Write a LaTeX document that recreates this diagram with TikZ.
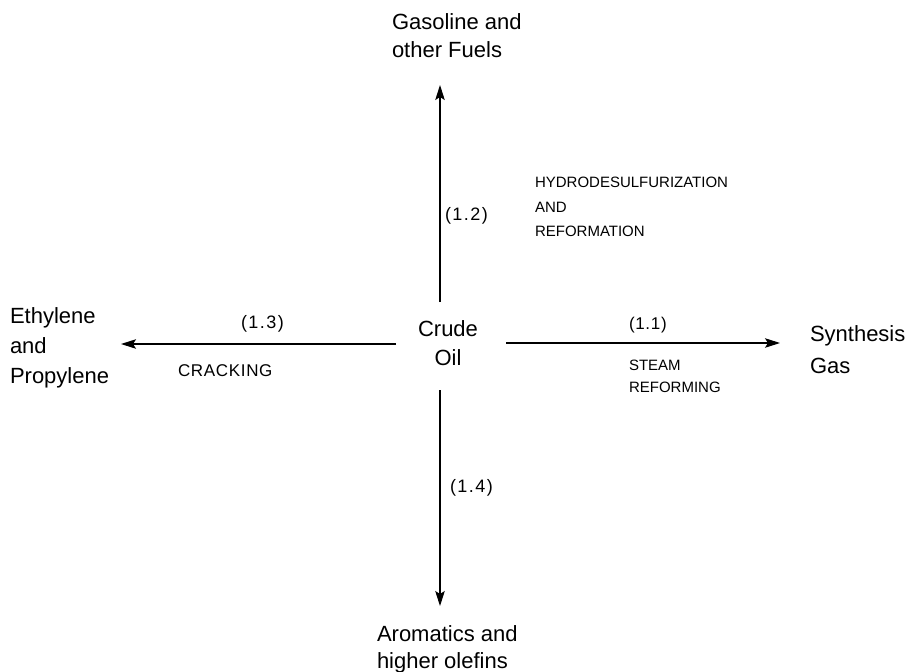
\documentclass[tikz,border=0pt]{standalone}
\usepackage{fontspec}
\setmainfont{Liberation Sans}
\newfontfamily\numfont[LetterSpace=8]{Liberation Sans}
\newfontfamily\numfontB[LetterSpace=4]{Liberation Sans}
\newfontfamily\capfont[LetterSpace=4]{Liberation Sans}
\usetikzlibrary{arrows.meta}
\begin{document}
\begin{tikzpicture}[x=1pt,y=-1pt,
  lbl/.style={inner sep=0pt, outer sep=0pt, anchor=north west, align=left},
  big/.style={font=\fontsize{22}{#1}\selectfont},
  small/.style={font=\fontsize{15}{#1}\selectfont},
  num/.style={lbl, font=\fontsize{18}{20}\selectfont\numfont},
  flow/.style={line width=1.2pt, -{Stealth[length=15pt,width=9.5pt,inset=3pt]}}]
\fill[white] (0,0) rectangle (913,672);
\useasboundingbox (0,0) rectangle (913,672);

% main labels
\node[lbl, big=28] (gas) at (392,13.1) {Gasoline and\\other Fuels};
\node[lbl, big=27] (arom) at (377,626) {Aromatics and\\higher olefins};
\node[lbl, big=30] (eth) at (10,307.3) {Ethylene\\and\\Propylene};
\node[lbl, big=32] (syn) at (810,325.7) {Synthesis\\Gas};
\node[inner sep=0pt, anchor=north, align=center, big=29] (crude) at (448,320) {Crude\\Oil};

% process labels
\node[lbl, small=24.7] (hydro) at (535,177) {HYDRODESULFURIZATION\\AND\\REFORMATION};
\node[lbl, small=22] (steam) at (629,360) {STEAM\\REFORMING};
\node[lbl, font=\fontsize{17}{20}\selectfont\capfont] (crack) at (178,365) {CRACKING};

% reaction numbers
\node[lbl, font=\fontsize{17}{20}\selectfont\numfontB] (n11) at (629,316.8) {(1.1)};
\node[num] (n12) at (445,207.5) {(1.2)};
\node[num] (n13) at (241,315.5) {(1.3)};
\node[num] (n14) at (450,479.5) {(1.4)};

% arrow end points
\coordinate (upS) at (440,302);
\coordinate (upE) at (440,85);
\coordinate (dnS) at (440,390);
\coordinate (dnE) at (440,606);
\coordinate (lfS) at (396,344);
\coordinate (lfE) at (121,344);
\coordinate (rtS) at (506,343);
\coordinate (rtE) at (780,343);

\draw[flow] (upS) -- (upE);
\draw[flow] (dnS) -- (dnE);
\draw[flow] (lfS) -- (lfE);
\draw[flow] (rtS) -- (rtE);
\end{tikzpicture}
\end{document}
